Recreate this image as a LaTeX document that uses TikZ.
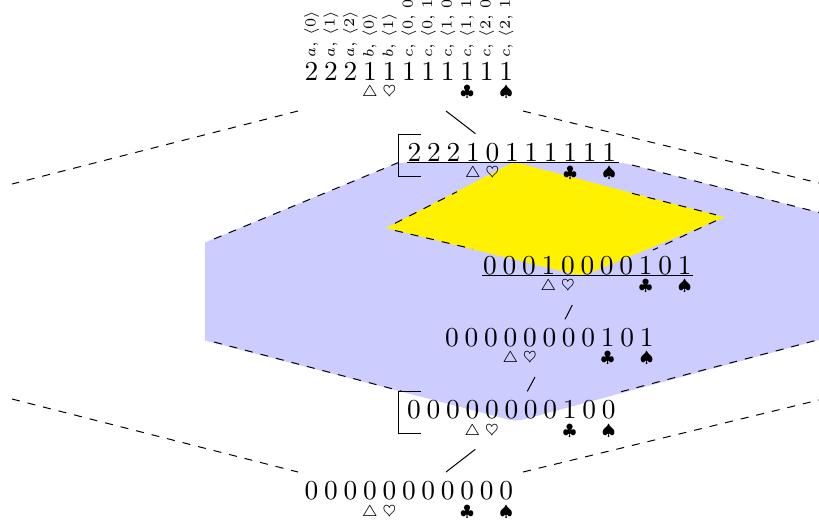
\documentclass[tikz,border=0pt]{standalone}
\usepackage{amsmath}
\usepackage{amssymb}
\definecolor{hullblue}{RGB}{204,204,255}
\definecolor{coreyellow}{RGB}{255,241,0}
\tikzset{
    digit/.style={inner sep=0pt,anchor=base,font=\fontsize{10.95}{13}\selectfont},
    suit/.style={inner sep=0pt,anchor=base,font=\scriptsize,scale=.9},
    tag/.style={inner sep=0pt,rotate=90,anchor=west,font=\fontsize{6}{7}\selectfont},
    dashline/.style={dash pattern=on 3.2pt off 3.2pt},
}
\newcommand{\digitrow}[4]{
    \foreach \d [count=\i] in {#4}
        \node[digit] (#1-\i) at ({#2+19.47*(\i-1)},#3) {$\d$};
    \node[suit] (#1-tri) at ([yshift=-6.7pt]#1-4.base) {$\triangle$};
    \node[suit] (#1-hrt) at ([yshift=-6.7pt]#1-5.base) {$\heartsuit$};
    \node[suit] (#1-clb) at ([yshift=-6.7pt]#1-9.base) {$\clubsuit$};
    \node[suit] (#1-spd) at ([yshift=-6.7pt]#1-11.base) {$\spadesuit$};
}
\begin{document}
\begin{tikzpicture}[x=.4pt,y=-.4pt]
    \clip (0,0) rectangle (819,523);
    \fill[hullblue] (205,242.5) -- (398.5,162.5) [rounded corners=3pt] -- (622,162.5) [sharp corners] -- (830,215) -- (830,337) [rounded corners=3pt] -- (516,421.5) [sharp corners] -- (205,340.5) -- cycle;
    \fill[coreyellow] (386,228) [rounded corners=2pt] -- (514,162) [sharp corners] -- (725,217.3) [rounded corners=3pt] -- (582,276) [sharp corners] -- cycle;
    % outer lines
    \draw[dashline] (298,111) -- (12,184);
    \draw[dashline] (523,111) -- (825,184.5);
    \draw[dashline] (12,399) -- (298,472);
    \draw[dashline] (523,472) -- (825,398.5);
    % round the blue part
    \draw[dashline] (214,239) -- (398,162.7);
    \draw[dashline] (632,165) -- (825,214);
    \draw[dashline] (214,342) -- (402,391.3);
    \draw[dashline] (621,391.7) -- (825,338);
    % round the yellow part
    \draw[dashline] (395,223.3) -- (457,191.7);
    \draw[dashline] (395,230.5) -- (473,249);
    \draw[dashline] (632,193.3) -- (716,214.8);
    \draw[dashline] (716,220.7) -- (653,250);
    \digitrow{top}{311.5}{80}{2,2,2,1,1,1,1,1,1,1,1}
    \digitrow{upper}{414.5}{161}{2,2,2,1,0,1,1,1,1,1,1}
    \digitrow{inner}{490}{274}{0,0,0,1,0,0,0,0,1,0,1}
    \digitrow{mid}{452}{346}{0,0,0,0,0,0,0,0,1,0,1}
    \digitrow{lower}{414}{418.3}{0,0,0,0,0,0,0,0,1,0,0}
    \digitrow{bot}{311.5}{499.3}{0,0,0,0,0,0,0,0,0,0,0}
    \foreach \lab [count=\i] in {{a,\,\langle 0\rangle},{a,\,\langle 1\rangle},{a,\,\langle 2\rangle},{b,\,\langle 0\rangle},{b,\,\langle 1\rangle},{c,\,\langle 0,\,0\rangle},{c,\,\langle 0,\,1\rangle},{c,\,\langle 1,\,0\rangle},{c,\,\langle 1,\,1\rangle},{c,\,\langle 2,\,0\rangle},{c,\,\langle 2,\,1\rangle}}
        \node[tag] (lab-\i) at (top-\i |- 0,58) {$\lab$};
    % rules under the two rows
    \draw ([xshift=-3.2pt,yshift=-.6pt]upper-1.base) -- ([xshift=3.8pt,yshift=-.6pt]upper-11.base);
    \draw ([xshift=-3.2pt,yshift=-.6pt]inner-1.base) -- ([xshift=3.4pt,yshift=-.6pt]inner-11.base);
    % brackets
    \draw (420.7,134) -| (398.3,176) -- (420.7,176);
    \draw (420.7,391.3) -| (398.3,433.7) -- (420.7,433.7);
    % short connectors
    \coordinate (topa) at (446,111);
    \coordinate (topb) at (475.5,133.7);
    \coordinate (inna) at (572.3,305);
    \coordinate (innb) at (565,319.3);
    \coordinate (mida) at (535,377);
    \coordinate (midb) at (527.3,391.3);
    \coordinate (bota) at (475.3,449.3);
    \coordinate (botb) at (446,472);
    \draw (topa) -- (topb);
    \draw (inna) -- (innb);
    \draw (mida) -- (midb);
    \draw (bota) -- (botb);
\end{tikzpicture}
\end{document}
